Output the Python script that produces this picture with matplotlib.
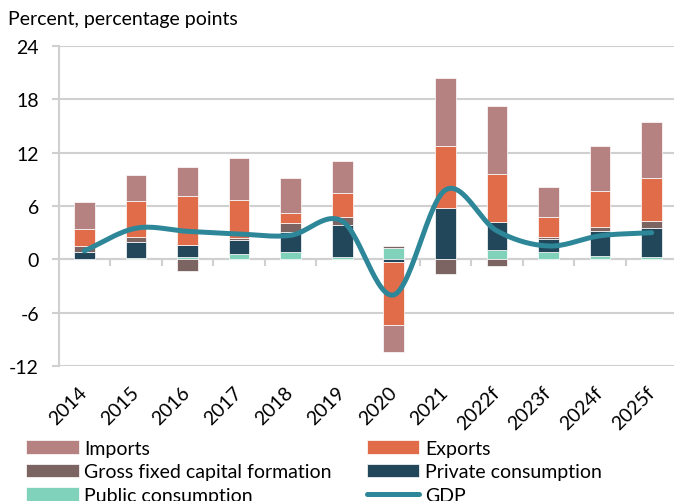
import matplotlib
matplotlib.use("Agg")
import matplotlib.pyplot as plt
import numpy as np

plt.rcParams['font.family'] = ['Lato', 'DejaVu Sans']
plt.rcParams['axes.unicode_minus'] = False

years = ['2014', '2015', '2016', '2017', '2018', '2019', '2020', '2021',
         '2022f', '2023f', '2024f', '2025f']
public = [0.05, 0.2, 0.3, 0.6, 0.8, 0.25, 1.3, 0.05, 1.05, 0.8, 0.35, 0.25]
private = [0.75, 1.75, 1.3, 1.55, 2.25, 3.6, -0.3, 5.7, 3.15, 1.5, 2.8, 3.25]
gfcf = [0.7, 0.55, -1.3, 0.3, 1.0, 0.95, 0.15, -1.6, -0.7, 0.25, 0.5, 0.8]
exports = [1.95, 4.1, 5.55, 4.25, 1.2, 2.7, -7.1, 7.05, 5.45, 2.2, 4.05, 4.8]
imports = [3.05, 2.9, 3.25, 4.7, 3.9, 3.6, -3.0, 7.65, 7.55, 3.4, 5.1, 6.4]
gdp = [0.95, 3.5, 3.15, 2.85, 2.7, 4.3, -4.0, 7.8, 3.2, 1.5, 2.65, 3.0]

series = [
    ("Public consumption", public, "#80D3BA"),
    ("Private consumption", private, "#22465A"),
    ("Gross fixed capital formation", gfcf, "#7B6462"),
    ("Exports", exports, "#E06C4A"),
    ("Imports", imports, "#B58281"),
]
GRID = "#D0D0D0"
FS = 14


def smooth(xs, ys, n=30):
    # Catmull-Rom style smoothing like Excel's smoothed line
    xs = np.asarray(xs, float)
    ys = np.asarray(ys, float)
    px = np.concatenate([[2 * xs[0] - xs[1]], xs, [2 * xs[-1] - xs[-2]]])
    py = np.concatenate([[2 * ys[0] - ys[1]], ys, [2 * ys[-1] - ys[-2]]])
    ox, oy = [], []
    for i in range(1, len(px) - 2):
        t = np.linspace(0, 1, n, endpoint=False)
        for p, out in ((px, ox), (py, oy)):
            p0, p1, p2, p3 = p[i - 1], p[i], p[i + 1], p[i + 2]
            out.extend(0.5 * ((2 * p1) + (-p0 + p2) * t
                              + (2 * p0 - 5 * p1 + 4 * p2 - p3) * t ** 2
                              + (-p0 + 3 * p1 - 3 * p2 + p3) * t ** 3))
    ox.append(xs[-1]); oy.append(ys[-1])
    return np.array(ox), np.array(oy)


fig = plt.figure(figsize=(6.74, 5.02), dpi=100)
ax = fig.add_axes([58.5 / 674, 135 / 502, 619 / 674, 320 / 502])

x = np.arange(len(years))
pos = np.zeros(len(years))
neg = np.zeros(len(years))
handles = {}
for name, vals, col in series:
    v = np.array(vals)
    base = np.where(v >= 0, pos, neg)
    b = ax.bar(x, v, 0.4, bottom=base, color=col, edgecolor="white",
               linewidth=0.5, zorder=3)
    handles[name] = b
    pos = np.where(v >= 0, pos + v, pos)
    neg = np.where(v < 0, neg + v, neg)

sx, sy = smooth(x, gdp)
line, = ax.plot(sx, sy, color="#2E8799", lw=3.6, solid_capstyle="round", zorder=4)
handles["GDP"] = line

ax.set_xlim(-0.5, len(years) - 0.5)
ax.set_ylim(-12, 24)
ax.set_yticks(np.arange(-12, 25, 6))
ax.grid(axis="y", color=GRID, lw=1.5, zorder=0)
ax.set_axisbelow(True)

for s in ("top", "right"):
    ax.spines[s].set_visible(False)
ax.spines["left"].set_color(GRID)
ax.spines["left"].set_linewidth(1.5)
ax.spines["bottom"].set_position(("data", 0))
ax.spines["bottom"].set_color(GRID)
ax.spines["bottom"].set_linewidth(1.5)

ax.tick_params(axis="y", length=5, width=1.5, color=GRID, pad=9, labelsize=FS)
ax.set_xticks(x)
ax.set_xticks(np.arange(0.5, len(years) - 1, 1), minor=True)
ax.tick_params(axis="x", which="major", length=0, labelbottom=False)
ax.tick_params(axis="x", which="minor", length=5, width=1.5, color=GRID)

sec = ax.secondary_xaxis("bottom")
sec.set_xticks(x)
sec.set_xticklabels(years, rotation=45, ha="right", va="center",
                    rotation_mode="anchor", fontsize=FS)
sec.tick_params(length=0, pad=17)
sec.spines["bottom"].set_visible(False)

fig.text(8 / 674, 1 - 20 / 502, "Percent, percentage points", fontsize=FS,
         va="center", ha="left")

order = ["Imports", "Exports", "Gross fixed capital formation",
         "Private consumption", "Public consumption", "GDP"]
# ncol=2 fills column-wise, so reorder for row-wise reading
lorder = order[0::2] + order[1::2]
fig.legend([handles[k] for k in lorder], lorder, ncol=2, frameon=False,
           loc="upper left", bbox_to_anchor=(26 / 674, 1 - 441 / 502),
           fontsize=FS, handlelength=2.7, handleheight=0.7,
           handletextpad=0.3, columnspacing=1.8, labelspacing=0.33,
           borderpad=0, borderaxespad=0)

fig.savefig("out.png", dpi=100)
